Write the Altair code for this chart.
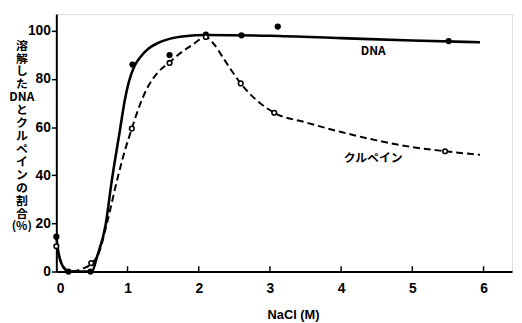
import altair as alt
import pandas as pd

# Measured points (NaCl molarity vs % dissolved)
dna_pts_x = [0.0, 0.17, 0.48, 1.07, 1.59, 2.1, 2.6, 3.11, 5.51]
dna_pts_y = [14.5, 0.0, 0.0, 86.0, 90.0, 98.5, 98.2, 101.8, 95.8]

clu_pts_x = [0.0, 0.49, 1.06, 1.59, 2.1, 2.59, 3.06, 5.46]
clu_pts_y = [10.5, 3.5, 59.4, 86.7, 97.5, 78.2, 66.0, 50.0]

# Smooth curves
dna_curve_x = [0.0, 0.03, 0.07, 0.12, 0.17, 0.3, 0.5, 0.57, 0.69, 0.78, 0.9, 0.96, 1.02, 1.1, 1.19, 1.3, 1.43, 1.6, 1.8, 2.1, 3.0, 4.0, 5.0, 5.95]
dna_curve_y = [14.5, 8.0, 3.5, 1.0, 0.0, 0.0, 0.0, 6.0, 19.0, 38.0, 60.0, 71.0, 79.0, 85.5, 89.5, 92.8, 95.0, 96.8, 97.8, 98.3, 98.0, 97.0, 96.0, 95.3]

clu_curve_x = [0.0, 0.05, 0.1, 0.2, 0.35, 0.5, 0.6, 0.71, 0.87, 0.96, 1.06, 1.17, 1.29, 1.42, 1.59, 1.75, 1.9, 2.1, 2.2, 2.35, 2.45, 2.59, 2.8, 3.06, 3.5, 4.0, 4.5, 5.0, 5.46, 5.95]
clu_curve_y = [10.5, 5.0, 2.0, 0.0, 1.0, 3.5, 8.0, 20.0, 40.0, 50.0, 59.4, 69.0, 77.0, 82.5, 87.0, 91.0, 94.0, 97.5, 95.0, 88.5, 84.0, 78.2, 71.5, 66.0, 62.0, 58.0, 54.5, 51.7, 50.0, 48.5]

x_ticks = [0, 1, 2, 3, 4, 5, 6]
y_ticks = [0, 20, 40, 60, 80, 100]

label_text = ["DNA", "クルペイン"]
label_x = [4.45, 4.45]
label_y = [91.6, 47.0]

y_title = ["溶", "解", "し", "た", "DNA", "と", "ク", "ル", "ペ", "イ", "ン", "の", "割", "合", "(%)"]

FONT = "Liberation Sans"
JFONT = "Noto Sans CJK JP"

xs = alt.Scale(domain=[0, 6.4], nice=False, zero=False)
ys = alt.Scale(domain=[0, 107], nice=False, zero=False)

xaxis = alt.Axis(values=x_ticks, tickSize=0, labelFont=FONT, labelFontSize=14, labelFontWeight="bold",
                 labelColor="black", labelPadding=10, domainColor="black", domainWidth=2,
                 grid=False, title="NaCl  (M)", titleFont=FONT, titleFontSize=13, titleFontWeight="bold",
                 titleColor="black", titleX=240, titleY=44, titleBaseline="middle", format="d")
yaxis = alt.Axis(values=y_ticks, tickSize=5, tickWidth=1.5, tickColor="black", labelFont=FONT,
                 labelFontSize=14, labelFontWeight="bold", labelColor="black", labelPadding=1,
                 domainColor="black", domainWidth=2, grid=False, title=None)

dna_curve = pd.DataFrame({"x": dna_curve_x, "y": dna_curve_y})
clu_curve = pd.DataFrame({"x": clu_curve_x, "y": clu_curve_y})
dna_pts = pd.DataFrame({"x": dna_pts_x, "y": dna_pts_y})
clu_pts = pd.DataFrame({"x": clu_pts_x, "y": clu_pts_y})
labels = pd.DataFrame({"x": label_x, "y": label_y, "t": label_text})
ticks = pd.DataFrame({"x": x_ticks[1:]})
ytitle_df = pd.DataFrame({"t": ["\n".join(y_title)]})

base_x = alt.X("x:Q", scale=xs, axis=xaxis)
base_y = alt.Y("y:Q", scale=ys, axis=yaxis)

l_dna = alt.Chart(dna_curve).mark_line(color="black", strokeWidth=2.6, interpolate="monotone").encode(x=base_x, y=base_y)
l_clu = alt.Chart(clu_curve).mark_line(color="black", strokeWidth=2.0, strokeDash=[7, 4], interpolate="monotone").encode(
    x=alt.X("x:Q", scale=xs), y=alt.Y("y:Q", scale=ys))
p_dna = alt.Chart(dna_pts).mark_point(filled=True, color="black", size=40, opacity=1).encode(
    x=alt.X("x:Q", scale=xs), y=alt.Y("y:Q", scale=ys))
p_clu = alt.Chart(clu_pts).mark_point(filled=False, color="black", fill="white", fillOpacity=1, size=22,
                                      strokeWidth=1.6, opacity=1).encode(
    x=alt.X("x:Q", scale=xs), y=alt.Y("y:Q", scale=ys))
t_lab = alt.Chart(labels).mark_text(font=JFONT, fontSize=12, fontWeight="bold", color="black").encode(
    x=alt.X("x:Q", scale=xs), y=alt.Y("y:Q", scale=ys), text="t:N")
xt = alt.Chart(ticks).mark_rule(color="black", strokeWidth=1.5).encode(
    x=alt.X("x:Q", scale=xs), y=alt.datum(0, scale=ys), y2=alt.datum(2.2))
yt = alt.Chart(ytitle_df).mark_text(font=JFONT, fontSize=12, fontWeight="bold", color="black",
                                    lineBreak="\n", lineHeight=13.1, align="center", baseline="top").encode(
    x=alt.value(-35), y=alt.value(27), text="t:N")

chart = alt.layer(l_dna, l_clu, p_dna, p_clu, t_lab, xt, yt).properties(
    width=462, height=261,
    autosize=alt.AutoSizeParams(type="none"),
    padding={"left": 49, "top": 4, "right": 2, "bottom": 50},
).configure_view(stroke=None).configure(background="white")

chart.save("out.html", embed_options={"renderer": "svg", "actions": False})
